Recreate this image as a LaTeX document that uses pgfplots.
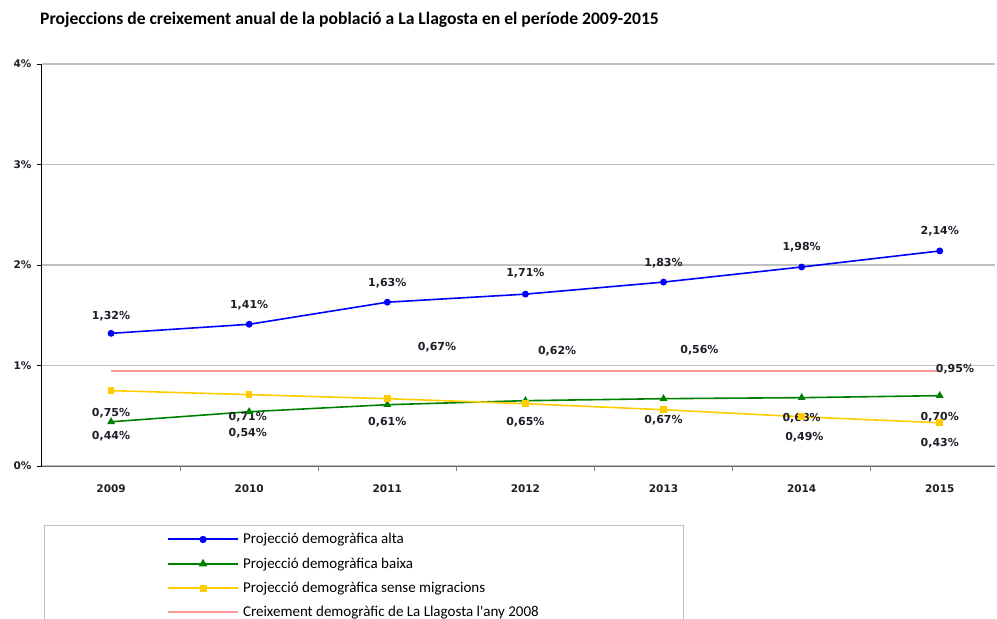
\documentclass[border=0pt]{standalone}
\usepackage{pgfplots}
\pgfplotsset{compat=1.18}
\usepackage{fontspec}
\setmainfont{DejaVu Sans}
\newfontfamily\calfont{Carlito}
\definecolor{cblue}{RGB}{0,0,255}
\definecolor{cgreen}{RGB}{0,128,0}
\definecolor{cyellow}{RGB}{255,204,0}
\definecolor{cpink}{RGB}{255,153,153}
\definecolor{cgrid}{RGB}{192,192,192}
\definecolor{ctext}{RGB}{30,30,40}
\begin{document}
\begin{tikzpicture}[x=1pt,y=1pt]
\useasboundingbox (-42,-153) rectangle (955,466);
\node[anchor=west,font=\calfont\bfseries\fontsize{17.6}{20}\selectfont,inner sep=0pt] at (-2,446) {Projeccions de creixement anual de la població a La Llagosta en el període 2009-2015};
\begin{axis}[
  at={(0,0)}, anchor=south west,
  scale only axis, width=953pt, height=402pt,
  xmin=-0.5, xmax=6.4, ymin=0, ymax=4,
  axis lines*=left,
  axis line style={line width=1pt},
  x axis line style={draw=gray!80!black},
  y axis line style={draw=black},
  ytick={0,1,2,3,4}, yticklabels={0\%,1\%,2\%,3\%,4\%},
  ymajorgrids, grid style={cgrid, line width=1.5pt},
  tick align=outside,
  major tick length=5pt,
  y tick style={black, line width=0.8pt},
  xtick={0,1,2,3,4,5,6}, xticklabels={2009,2010,2011,2012,2013,2014,2015},
  x tick style={draw=none},
  extra x ticks={0.5,1.5,2.5,3.5,4.5,5.5},
  extra x tick labels={},
  extra x tick style={x tick style={draw=gray, line width=0.8pt}},
  tick label style={font=\bfseries\fontsize{10.5}{12}\selectfont, text=ctext},
  xticklabel style={yshift=-10pt},
  yticklabel style={xshift=-2pt},
  legend style={at={(axis description cs:0.131,-0.1625)}, anchor=north west, draw=none, fill=none,
    font=\calfont\fontsize{15}{17}\selectfont, row sep=8.4pt, inner sep=0pt,
    cells={anchor=west}},
  legend image code/.code={\draw[line width=2pt,mark repeat=2,mark phase=2] plot coordinates {(0pt,0pt) (35pt,0pt) (70pt,0pt)}; \path (72pt,0pt);},
  clip=false,
]
\addplot[cblue, line width=1.6pt, mark=*, mark size=2.6pt] coordinates {(0,1.32) (1,1.41) (2,1.63) (3,1.71) (4,1.83) (5,1.98) (6,2.14)};
\addlegendentry{Projecció demogràfica alta}
\addplot[cgreen, line width=1.6pt, mark=triangle*, mark size=3pt] coordinates {(0,0.44) (1,0.54) (2,0.61) (3,0.65) (4,0.67) (5,0.68) (6,0.70)};
\addlegendentry{Projecció demogràfica baixa}
\addplot[cyellow, line width=1.6pt, mark=square*, mark size=2.5pt] coordinates {(0,0.75) (1,0.71) (2,0.67) (3,0.62) (4,0.56) (5,0.49) (6,0.43)};
\addlegendentry{Projecció demogràfica sense migracions}
\addplot[cpink, line width=2pt] coordinates {(0,0.95) (1,0.95) (2,0.95) (3,0.95) (4,0.95) (5,0.95) (6,0.95)};
\addlegendentry{Creixement demogràfic de La Llagosta l'any 2008}
% data labels
\begin{scope}[every node/.style={font=\bfseries\fontsize{11}{13}\selectfont, text=ctext, inner sep=0pt}]
\node at (axis cs:0,1.49) {1,32\%};
\node at (axis cs:1,1.60) {1,41\%};
\node at (axis cs:2,1.82) {1,63\%};
\node at (axis cs:3,1.92) {1,71\%};
\node at (axis cs:4,2.02) {1,83\%};
\node at (axis cs:5,2.18) {1,98\%};
\node at (axis cs:6,2.34) {2,14\%};
\node at (axis cs:0,0.30) {0,44\%};
\node at (axis cs:0.99,0.33) {0,54\%};
\node at (axis cs:2,0.44) {0,61\%};
\node at (axis cs:3,0.44) {0,65\%};
\node at (axis cs:4,0.46) {0,67\%};
\node at (axis cs:5,0.48) {0,68\%};
\node at (axis cs:6,0.49) {0,70\%};
\node at (axis cs:0,0.527) {0,75\%};
\node at (axis cs:0.99,0.49) {0,71\%};
\node at (axis cs:2.36,1.18) {0,67\%};
\node at (axis cs:3.23,1.14) {0,62\%};
\node at (axis cs:4.26,1.15) {0,56\%};
\node at (axis cs:5.02,0.29) {0,49\%};
\node at (axis cs:6,0.23) {0,43\%};
\node at (axis cs:6.11,0.965) {0,95\%};
\end{scope}
\end{axis}
\draw[cgrid, line width=1pt] (3,-59) rectangle (641,-200);
\end{tikzpicture}
\end{document}
